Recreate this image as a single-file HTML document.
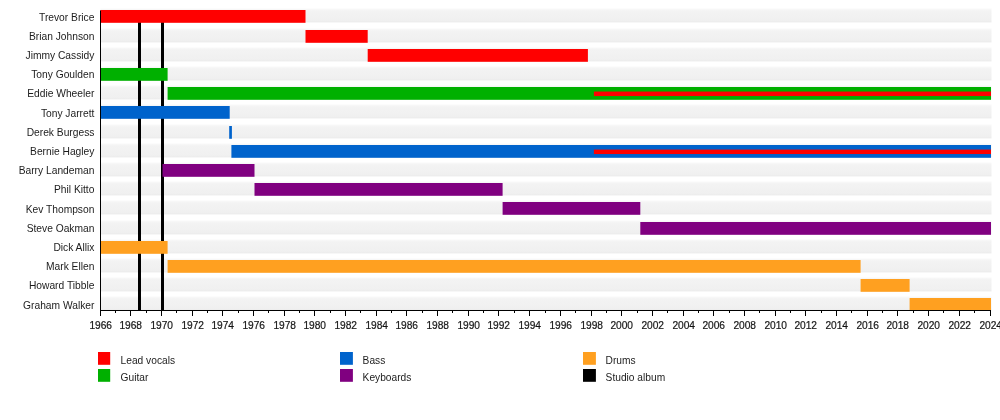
<!DOCTYPE html>
<html><head><meta charset="utf-8"><style>
html,body{margin:0;padding:0;background:#fff;width:1000px;height:420px;overflow:hidden}
svg{display:block;font-family:"Liberation Sans", sans-serif;fill:#1a1a1a}
text{fill:#1c1c1c}
.yr{stroke:#000;stroke-width:0.2px}
svg{will-change:transform}
</style></head><body>
<svg width="1000" height="420" viewBox="0 0 1000 420">
<defs><linearGradient id="sg" x1="0" y1="0" x2="0" y2="1"><stop offset="0" stop-color="#fafafa"/><stop offset="0.18" stop-color="#f3f3f3"/><stop offset="0.85" stop-color="#f0f0f0"/><stop offset="1" stop-color="#ebebeb"/></linearGradient></defs>
<rect width="1000" height="420" fill="#fff"/>
<rect x="100.5" y="8.40" width="891" height="14.00" fill="url(#sg)"/>
<rect x="100.5" y="28.40" width="891" height="14.00" fill="url(#sg)"/>
<rect x="100.5" y="47.40" width="891" height="14.00" fill="url(#sg)"/>
<rect x="100.5" y="66.40" width="891" height="14.00" fill="url(#sg)"/>
<rect x="100.5" y="85.40" width="891" height="14.00" fill="url(#sg)"/>
<rect x="100.5" y="104.40" width="891" height="14.00" fill="url(#sg)"/>
<rect x="100.5" y="124.40" width="891" height="14.00" fill="url(#sg)"/>
<rect x="100.5" y="143.40" width="891" height="14.00" fill="url(#sg)"/>
<rect x="100.5" y="162.40" width="891" height="14.00" fill="url(#sg)"/>
<rect x="100.5" y="181.40" width="891" height="14.00" fill="url(#sg)"/>
<rect x="100.5" y="200.40" width="891" height="14.00" fill="url(#sg)"/>
<rect x="100.5" y="220.40" width="891" height="14.00" fill="url(#sg)"/>
<rect x="100.5" y="239.40" width="891" height="14.00" fill="url(#sg)"/>
<rect x="100.5" y="258.40" width="891" height="14.00" fill="url(#sg)"/>
<rect x="100.5" y="277.40" width="891" height="14.00" fill="url(#sg)"/>
<rect x="100.5" y="296.40" width="891" height="14.00" fill="url(#sg)"/>
<rect x="138.00" y="11" width="3" height="299" fill="#000"/>
<rect x="161.00" y="11" width="3" height="299" fill="#000"/>
<rect x="100.50" y="10.00" width="205.00" height="12.8" fill="#ff0000"/>
<rect x="305.50" y="30.00" width="62.20" height="12.8" fill="#ff0000"/>
<rect x="367.70" y="49.00" width="220.20" height="12.8" fill="#ff0000"/>
<rect x="100.50" y="68.00" width="67.10" height="12.8" fill="#00b000"/>
<rect x="167.60" y="87.00" width="823.40" height="12.8" fill="#00b000"/>
<rect x="100.50" y="106.00" width="129.20" height="12.8" fill="#0063cc"/>
<rect x="229.20" y="126.00" width="2.70" height="12.8" fill="#0063cc"/>
<rect x="231.40" y="145.00" width="759.60" height="12.8" fill="#0063cc"/>
<rect x="162.50" y="164.00" width="92.00" height="12.8" fill="#800080"/>
<rect x="254.50" y="183.00" width="248.10" height="12.8" fill="#800080"/>
<rect x="502.60" y="202.00" width="137.70" height="12.8" fill="#800080"/>
<rect x="640.30" y="222.00" width="350.70" height="12.8" fill="#800080"/>
<rect x="100.50" y="241.00" width="67.10" height="12.8" fill="#ffa020"/>
<rect x="167.60" y="260.00" width="693.00" height="12.8" fill="#ffa020"/>
<rect x="860.60" y="279.00" width="49.00" height="12.8" fill="#ffa020"/>
<rect x="909.60" y="298.00" width="81.40" height="12.8" fill="#ffa020"/>
<rect x="593.90" y="91.55" width="397.10" height="4.5" fill="#ff0000"/>
<rect x="593.90" y="149.55" width="397.10" height="4.5" fill="#ff0000"/>
<rect x="100" y="10.5" width="1" height="300.5" fill="#000"/>
<rect x="100" y="310" width="891" height="1" fill="#000"/>
<rect x="100" y="311" width="1" height="5" fill="#000"/>
<rect x="115" y="311" width="1" height="2" fill="#000"/>
<rect x="130" y="311" width="1" height="5" fill="#000"/>
<rect x="146" y="311" width="1" height="2" fill="#000"/>
<rect x="161" y="311" width="1" height="5" fill="#000"/>
<rect x="176" y="311" width="1" height="2" fill="#000"/>
<rect x="192" y="311" width="1" height="5" fill="#000"/>
<rect x="207" y="311" width="1" height="2" fill="#000"/>
<rect x="222" y="311" width="1" height="5" fill="#000"/>
<rect x="238" y="311" width="1" height="2" fill="#000"/>
<rect x="253" y="311" width="1" height="5" fill="#000"/>
<rect x="268" y="311" width="1" height="2" fill="#000"/>
<rect x="284" y="311" width="1" height="5" fill="#000"/>
<rect x="299" y="311" width="1" height="2" fill="#000"/>
<rect x="314" y="311" width="1" height="5" fill="#000"/>
<rect x="330" y="311" width="1" height="2" fill="#000"/>
<rect x="345" y="311" width="1" height="5" fill="#000"/>
<rect x="360" y="311" width="1" height="2" fill="#000"/>
<rect x="376" y="311" width="1" height="5" fill="#000"/>
<rect x="391" y="311" width="1" height="2" fill="#000"/>
<rect x="406" y="311" width="1" height="5" fill="#000"/>
<rect x="422" y="311" width="1" height="2" fill="#000"/>
<rect x="437" y="311" width="1" height="5" fill="#000"/>
<rect x="452" y="311" width="1" height="2" fill="#000"/>
<rect x="468" y="311" width="1" height="5" fill="#000"/>
<rect x="483" y="311" width="1" height="2" fill="#000"/>
<rect x="498" y="311" width="1" height="5" fill="#000"/>
<rect x="514" y="311" width="1" height="2" fill="#000"/>
<rect x="529" y="311" width="1" height="5" fill="#000"/>
<rect x="545" y="311" width="1" height="2" fill="#000"/>
<rect x="560" y="311" width="1" height="5" fill="#000"/>
<rect x="575" y="311" width="1" height="2" fill="#000"/>
<rect x="591" y="311" width="1" height="5" fill="#000"/>
<rect x="606" y="311" width="1" height="2" fill="#000"/>
<rect x="621" y="311" width="1" height="5" fill="#000"/>
<rect x="637" y="311" width="1" height="2" fill="#000"/>
<rect x="652" y="311" width="1" height="5" fill="#000"/>
<rect x="667" y="311" width="1" height="2" fill="#000"/>
<rect x="683" y="311" width="1" height="5" fill="#000"/>
<rect x="698" y="311" width="1" height="2" fill="#000"/>
<rect x="713" y="311" width="1" height="5" fill="#000"/>
<rect x="729" y="311" width="1" height="2" fill="#000"/>
<rect x="744" y="311" width="1" height="5" fill="#000"/>
<rect x="759" y="311" width="1" height="2" fill="#000"/>
<rect x="775" y="311" width="1" height="5" fill="#000"/>
<rect x="790" y="311" width="1" height="2" fill="#000"/>
<rect x="805" y="311" width="1" height="5" fill="#000"/>
<rect x="821" y="311" width="1" height="2" fill="#000"/>
<rect x="836" y="311" width="1" height="5" fill="#000"/>
<rect x="851" y="311" width="1" height="2" fill="#000"/>
<rect x="867" y="311" width="1" height="5" fill="#000"/>
<rect x="882" y="311" width="1" height="2" fill="#000"/>
<rect x="897" y="311" width="1" height="5" fill="#000"/>
<rect x="913" y="311" width="1" height="2" fill="#000"/>
<rect x="928" y="311" width="1" height="5" fill="#000"/>
<rect x="943" y="311" width="1" height="2" fill="#000"/>
<rect x="959" y="311" width="1" height="5" fill="#000"/>
<rect x="974" y="311" width="1" height="2" fill="#000"/>
<rect x="990" y="311" width="1" height="5" fill="#000"/>
<text x="0" y="0" transform="translate(100.70,328.8) scale(0.91,1)" class="yr" text-anchor="middle" font-size="11.2">1966</text>
<text x="0" y="0" transform="translate(130.70,328.8) scale(0.91,1)" class="yr" text-anchor="middle" font-size="11.2">1968</text>
<text x="0" y="0" transform="translate(161.70,328.8) scale(0.91,1)" class="yr" text-anchor="middle" font-size="11.2">1970</text>
<text x="0" y="0" transform="translate(192.70,328.8) scale(0.91,1)" class="yr" text-anchor="middle" font-size="11.2">1972</text>
<text x="0" y="0" transform="translate(222.70,328.8) scale(0.91,1)" class="yr" text-anchor="middle" font-size="11.2">1974</text>
<text x="0" y="0" transform="translate(253.70,328.8) scale(0.91,1)" class="yr" text-anchor="middle" font-size="11.2">1976</text>
<text x="0" y="0" transform="translate(284.70,328.8) scale(0.91,1)" class="yr" text-anchor="middle" font-size="11.2">1978</text>
<text x="0" y="0" transform="translate(314.70,328.8) scale(0.91,1)" class="yr" text-anchor="middle" font-size="11.2">1980</text>
<text x="0" y="0" transform="translate(345.70,328.8) scale(0.91,1)" class="yr" text-anchor="middle" font-size="11.2">1982</text>
<text x="0" y="0" transform="translate(376.70,328.8) scale(0.91,1)" class="yr" text-anchor="middle" font-size="11.2">1984</text>
<text x="0" y="0" transform="translate(406.70,328.8) scale(0.91,1)" class="yr" text-anchor="middle" font-size="11.2">1986</text>
<text x="0" y="0" transform="translate(437.70,328.8) scale(0.91,1)" class="yr" text-anchor="middle" font-size="11.2">1988</text>
<text x="0" y="0" transform="translate(468.70,328.8) scale(0.91,1)" class="yr" text-anchor="middle" font-size="11.2">1990</text>
<text x="0" y="0" transform="translate(498.70,328.8) scale(0.91,1)" class="yr" text-anchor="middle" font-size="11.2">1992</text>
<text x="0" y="0" transform="translate(529.70,328.8) scale(0.91,1)" class="yr" text-anchor="middle" font-size="11.2">1994</text>
<text x="0" y="0" transform="translate(560.70,328.8) scale(0.91,1)" class="yr" text-anchor="middle" font-size="11.2">1996</text>
<text x="0" y="0" transform="translate(591.70,328.8) scale(0.91,1)" class="yr" text-anchor="middle" font-size="11.2">1998</text>
<text x="0" y="0" transform="translate(621.70,328.8) scale(0.91,1)" class="yr" text-anchor="middle" font-size="11.2">2000</text>
<text x="0" y="0" transform="translate(652.70,328.8) scale(0.91,1)" class="yr" text-anchor="middle" font-size="11.2">2002</text>
<text x="0" y="0" transform="translate(683.70,328.8) scale(0.91,1)" class="yr" text-anchor="middle" font-size="11.2">2004</text>
<text x="0" y="0" transform="translate(713.70,328.8) scale(0.91,1)" class="yr" text-anchor="middle" font-size="11.2">2006</text>
<text x="0" y="0" transform="translate(744.70,328.8) scale(0.91,1)" class="yr" text-anchor="middle" font-size="11.2">2008</text>
<text x="0" y="0" transform="translate(775.70,328.8) scale(0.91,1)" class="yr" text-anchor="middle" font-size="11.2">2010</text>
<text x="0" y="0" transform="translate(805.70,328.8) scale(0.91,1)" class="yr" text-anchor="middle" font-size="11.2">2012</text>
<text x="0" y="0" transform="translate(836.70,328.8) scale(0.91,1)" class="yr" text-anchor="middle" font-size="11.2">2014</text>
<text x="0" y="0" transform="translate(867.70,328.8) scale(0.91,1)" class="yr" text-anchor="middle" font-size="11.2">2016</text>
<text x="0" y="0" transform="translate(897.70,328.8) scale(0.91,1)" class="yr" text-anchor="middle" font-size="11.2">2018</text>
<text x="0" y="0" transform="translate(928.70,328.8) scale(0.91,1)" class="yr" text-anchor="middle" font-size="11.2">2020</text>
<text x="0" y="0" transform="translate(959.70,328.8) scale(0.91,1)" class="yr" text-anchor="middle" font-size="11.2">2022</text>
<text x="0" y="0" transform="translate(990.70,328.8) scale(0.91,1)" class="yr" text-anchor="middle" font-size="11.2">2024</text>
<text x="0" y="0" transform="translate(94.4,20.70) scale(0.95,1)" text-anchor="end" font-size="10.8">Trevor Brice</text>
<text x="0" y="0" transform="translate(94.4,39.70) scale(0.95,1)" text-anchor="end" font-size="10.8">Brian Johnson</text>
<text x="0" y="0" transform="translate(94.4,58.70) scale(0.95,1)" text-anchor="end" font-size="10.8">Jimmy Cassidy</text>
<text x="0" y="0" transform="translate(94.4,77.70) scale(0.95,1)" text-anchor="end" font-size="10.8">Tony Goulden</text>
<text x="0" y="0" transform="translate(94.4,96.70) scale(0.95,1)" text-anchor="end" font-size="10.8">Eddie Wheeler</text>
<text x="0" y="0" transform="translate(94.4,116.70) scale(0.95,1)" text-anchor="end" font-size="10.8">Tony Jarrett</text>
<text x="0" y="0" transform="translate(94.4,135.70) scale(0.95,1)" text-anchor="end" font-size="10.8">Derek Burgess</text>
<text x="0" y="0" transform="translate(94.4,154.70) scale(0.95,1)" text-anchor="end" font-size="10.8">Bernie Hagley</text>
<text x="0" y="0" transform="translate(94.4,173.70) scale(0.95,1)" text-anchor="end" font-size="10.8">Barry Landeman</text>
<text x="0" y="0" transform="translate(94.4,192.70) scale(0.95,1)" text-anchor="end" font-size="10.8">Phil Kitto</text>
<text x="0" y="0" transform="translate(94.4,212.70) scale(0.95,1)" text-anchor="end" font-size="10.8">Kev Thompson</text>
<text x="0" y="0" transform="translate(94.4,231.70) scale(0.95,1)" text-anchor="end" font-size="10.8">Steve Oakman</text>
<text x="0" y="0" transform="translate(94.4,250.70) scale(0.95,1)" text-anchor="end" font-size="10.8">Dick Allix</text>
<text x="0" y="0" transform="translate(94.4,269.70) scale(0.95,1)" text-anchor="end" font-size="10.8">Mark Ellen</text>
<text x="0" y="0" transform="translate(94.4,288.70) scale(0.95,1)" text-anchor="end" font-size="10.8">Howard Tibble</text>
<text x="0" y="0" transform="translate(94.4,308.70) scale(0.95,1)" text-anchor="end" font-size="10.8">Graham Walker</text>
<rect x="98" y="352" width="12.2" height="12.8" fill="#ff0000"/>
<text x="0" y="0" transform="translate(120.6,364.2) scale(0.945,1)" font-size="10.8">Lead vocals</text>
<rect x="98" y="369" width="12.2" height="12.8" fill="#00b000"/>
<text x="0" y="0" transform="translate(120.6,381.2) scale(0.945,1)" font-size="10.8">Guitar</text>
<rect x="340" y="352" width="12.9" height="12.8" fill="#0063cc"/>
<text x="0" y="0" transform="translate(362.6,364.2) scale(0.945,1)" font-size="10.8">Bass</text>
<rect x="340" y="369" width="12.9" height="12.8" fill="#800080"/>
<text x="0" y="0" transform="translate(362.6,381.2) scale(0.945,1)" font-size="10.8">Keyboards</text>
<rect x="583" y="352" width="12.9" height="12.8" fill="#ffa020"/>
<text x="0" y="0" transform="translate(605.6,364.2) scale(0.945,1)" font-size="10.8">Drums</text>
<rect x="583" y="369" width="12.9" height="12.8" fill="#000000"/>
<text x="0" y="0" transform="translate(605.6,381.2) scale(0.945,1)" font-size="10.8">Studio album</text>
</svg>
</body></html>
